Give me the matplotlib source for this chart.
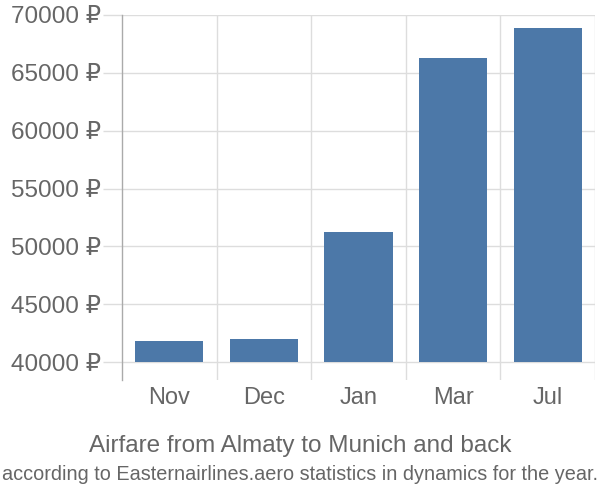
import matplotlib.pyplot as plt
import numpy as np

months = ["Nov", "Dec", "Jan", "Mar", "Jul"]
prices = [41800, 42000, 51200, 66250, 68850]
y_ticks = [40000, 45000, 50000, 55000, 60000, 65000, 70000]
base = 40000

plt.rcParams['font.family'] = ['Liberation Sans', 'DejaVu Sans']

fig = plt.figure(figsize=(6, 5), dpi=100)
ax = fig.add_axes([122 / 600, 1 - 380 / 500, 473 / 600, 365 / 500])

x = np.arange(len(months))
ax.bar(x, [p - base for p in prices], bottom=base, width=0.72,
       color="#4c78a8", zorder=3)

ax.set_xlim(-0.5, len(months) - 0.5)
ax.set_ylim(38450, 70000)

ax.set_yticks(y_ticks)
ax.set_yticklabels([f"{v} ₽" for v in y_ticks])
ax.tick_params(axis="y", length=14, width=1, color="#dddddd",
               labelsize=17.5, labelcolor="#666666", pad=1)

ax.set_xticks(x)
ax.set_xticklabels(months)
ax.tick_params(axis="x", length=0, labelsize=17, labelcolor="#666666", pad=5)

for yv in y_ticks:
    ax.axhline(yv, color="#dddddd", lw=1, zorder=1)
for xv in np.arange(0.5, len(months) - 0.5, 1):
    ax.axvline(xv, color="#dddddd", lw=1, zorder=1)
ax.axvline(len(months) - 0.5, color="#dddddd", lw=1, zorder=1)

for s in ["top", "right", "bottom"]:
    ax.spines[s].set_visible(False)
ax.spines["left"].set_color("#aaaaaa")
ax.spines["left"].set_linewidth(1)

fig.text(0.5, 1 - 446 / 500, "Airfare from Almaty to Munich and back",
         ha="center", va="center", fontsize=17.5, color="#666666")
fig.text(0.5, 1 - 475 / 500,
         "according to Easternairlines.aero statistics in dynamics for the year.",
         ha="center", va="center", fontsize=14.3, color="#666666")

fig.savefig("out.png", dpi=100)
